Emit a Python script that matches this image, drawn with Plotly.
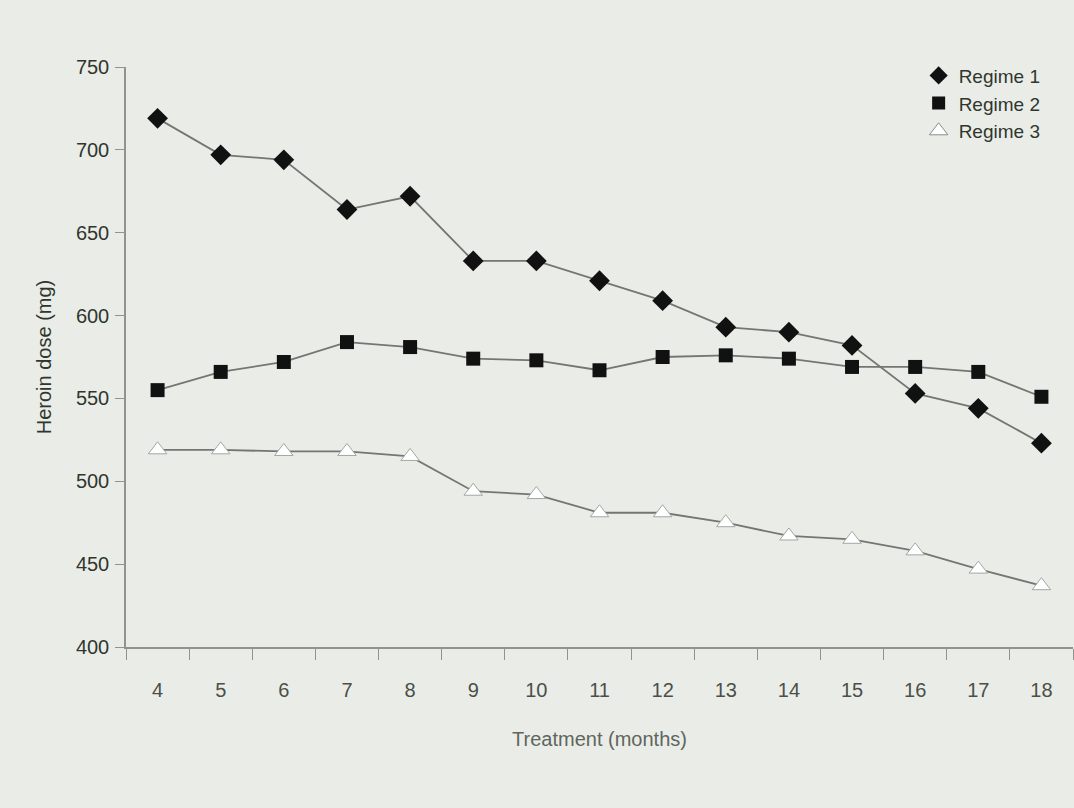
import plotly.graph_objects as go

months = ["4", "5", "6", "7", "8", "9", "10", "11", "12", "13", "14", "15", "16", "17", "18"]
regime1 = [719, 697, 694, 664, 672, 633, 633, 621, 609, 593, 590, 582, 553, 544, 523]
regime2 = [555, 566, 572, 584, 581, 574, 573, 567, 575, 576, 574, 569, 569, 566, 551]
regime3 = [519, 519, 518, 518, 515, 494, 492, 481, 481, 475, 467, 465, 458, 447, 437]
y_ticks = [400, 450, 500, 550, 600, 650, 700, 750]

bg = "#eaede7"
line_col = "#747672"
axis_col = "#90938e"
text_col = "#2f362e"
font = "Liberation Sans, Arial, sans-serif"

fig = go.Figure()

fig.add_trace(go.Scatter(x=months, y=regime1, mode="lines+markers", showlegend=False,
                         line=dict(color=line_col, width=1.8),
                         marker=dict(symbol="diamond", size=16, color="#111111")))
fig.add_trace(go.Scatter(x=months, y=regime2, mode="lines+markers", showlegend=False,
                         line=dict(color=line_col, width=1.8),
                         marker=dict(symbol="square", size=14, color="#111111")))
fig.add_trace(go.Scatter(x=months, y=regime3, mode="lines+markers", showlegend=False,
                         line=dict(color=line_col, width=1.8),
                         marker=dict(symbol="triangle-up", size=16, color="#ffffff",
                                     line=dict(color="#a4a6a2", width=1))))

# legend entries (markers only)
fig.add_trace(go.Scatter(x=[None], y=[None], mode="markers", name="Regime 1",
                         marker=dict(symbol="diamond", size=14, color="#111111")))
fig.add_trace(go.Scatter(x=[None], y=[None], mode="markers", name="Regime 2",
                         marker=dict(symbol="square", size=13, color="#111111")))
fig.add_trace(go.Scatter(x=[None], y=[None], mode="markers", name="Regime 3",
                         marker=dict(symbol="triangle-up", size=16, color="#ffffff",
                                     line=dict(color="#8a8c88", width=1))))

fig.update_layout(
    width=1074, height=808,
    margin=dict(l=126, r=1, t=67, b=161),
    paper_bgcolor=bg, plot_bgcolor=bg,
    font=dict(family=font, color=text_col, size=20),
    legend=dict(x=0.837, xanchor="left", y=1.018, yanchor="top",
                bgcolor="rgba(0,0,0,0)", font=dict(size=19, color=text_col),
                itemwidth=30, tracegroupgap=0),
    xaxis=dict(type="category", categoryorder="array", categoryarray=months,
               range=[-0.5, 14.5], tickson="boundaries",
               showline=True, linecolor=axis_col, linewidth=1.5,
               ticks="outside", ticklen=11, tickcolor=axis_col, tickwidth=1.2,
               ticklabelstandoff=24,
               tickfont=dict(size=20, color="#4a4f48"),
               showgrid=False, zeroline=False,
               title=dict(text="Treatment (months)", font=dict(size=20, color="#60655e"),
                          standoff=32)),
    yaxis=dict(range=[400, 750], tickvals=y_ticks,
               showline=True, linecolor=axis_col, linewidth=1.5,
               ticks="outside", ticklen=9, tickcolor=axis_col, tickwidth=1.2,
               ticklabelstandoff=2,
               tickfont=dict(size=20, color=text_col),
               showgrid=False, zeroline=False,
               title=dict(text="Heroin dose (mg)", font=dict(size=20, color=text_col),
                          standoff=19)),
)

fig.write_html("out.html", config={"displayModeBar": False},
               post_script="document.body.style.margin='0';")
